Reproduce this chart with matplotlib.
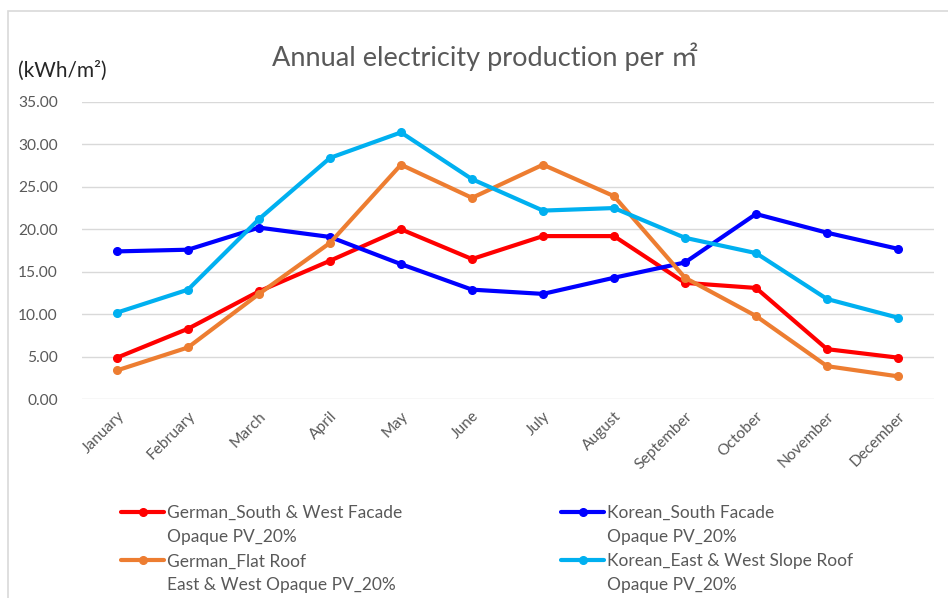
import matplotlib.pyplot as plt
from matplotlib.lines import Line2D
from matplotlib.patches import Rectangle
from matplotlib.ticker import FormatStrFormatter

plt.rcParams['font.family'] = ['Lato', 'Noto Sans CJK SC', 'DejaVu Sans']

months = ['January', 'February', 'March', 'April', 'May', 'June', 'July',
          'August', 'September', 'October', 'November', 'December']

german_facade = [4.9, 8.3, 12.7, 16.3, 20.0, 16.5, 19.2, 19.2, 13.7, 13.1, 5.9, 4.9]
korean_facade = [17.4, 17.6, 20.2, 19.1, 15.9, 12.9, 12.4, 14.3, 16.1, 21.8, 19.6, 17.7]
german_roof = [3.4, 6.1, 12.4, 18.4, 27.6, 23.7, 27.6, 23.9, 14.3, 9.8, 3.9, 2.7]
korean_roof = [10.2, 12.9, 21.2, 28.4, 31.4, 25.9, 22.2, 22.5, 19.0, 17.2, 11.8, 9.6]

label_gf = ['German_South & West Facade', 'Opaque PV_20%']
label_kf = ['Korean_South Facade', 'Opaque PV_20%']
label_gr = ['German_Flat Roof', 'East & West Opaque PV_20%']
label_kr = ['Korean_East & West Slope Roof', 'Opaque PV_20%']

grey = '#595959'

fig = plt.figure(figsize=(9.48, 5.98), dpi=100)
# chart frame (cropped at right/bottom)
fig.patches.append(Rectangle((8 / 948, -0.1), 1.0, 1 - 11 / 598 + 0.1,
                             transform=fig.transFigure, fill=False,
                             edgecolor='#D9D9D9', lw=1.2))

ax = fig.add_axes([81.5 / 948, 1 - 399.3 / 598, 852 / 948, 297.5 / 598])

x = range(len(months))
series = [
    (german_facade, '#FF0000'),
    (korean_facade, '#0000FF'),
    (german_roof, '#ED7D31'),
    (korean_roof, '#00B0F0'),
]
lines = []
for vals, col in series:
    ln, = ax.plot(x, vals, color=col, lw=3, marker='o', ms=5.5,
                  solid_joinstyle='round', solid_capstyle='round')
    lines.append(ln)

ax.set_xlim(-0.5, len(months) - 0.5)
ax.set_ylim(0, 35)
ax.set_yticks(range(0, 36, 5))
ax.yaxis.set_major_formatter(FormatStrFormatter('%.2f'))
ax.set_xticks(list(x))
ax.set_xticklabels(months, rotation=45, ha='right', rotation_mode='anchor')
ax.tick_params(length=0, colors=grey, labelsize=11.2)
ax.tick_params(axis='y', pad=17)
ax.tick_params(axis='x', pad=7)
ax.grid(axis='y', color='#D9D9D9', lw=1)
ax.set_axisbelow(True)
for s in ax.spines.values():
    s.set_visible(False)

fig.text(485 / 948, 1 - 57 / 598, 'Annual electricity production per ㎡',
         ha='center', va='center', fontsize=19.5, color=grey)
fig.text(18 / 948, 1 - 71 / 598, '(kWh/m²)', ha='left', va='center',
         fontsize=15, color='#262626')

blank = Line2D([], [], color='none')


def make_legend(items, xpos):
    handles, labels = [], []
    for ln, lab in items:
        handles += [ln, blank]
        labels += lab
    leg = fig.legend(handles, labels, loc='upper left',
                     bbox_to_anchor=(xpos, 1 - 505 / 598), frameon=False,
                     fontsize=12.5, handlelength=2.5, handletextpad=0.15,
                     labelspacing=0.47, borderaxespad=0, borderpad=0)
    for t in leg.get_texts():
        t.set_color(grey)
    return leg


make_legend([(lines[0], label_gf), (lines[2], label_gr)], 121 / 948)
make_legend([(lines[1], label_kf), (lines[3], label_kr)], 561 / 948)

fig.savefig('out.png', dpi=100)
